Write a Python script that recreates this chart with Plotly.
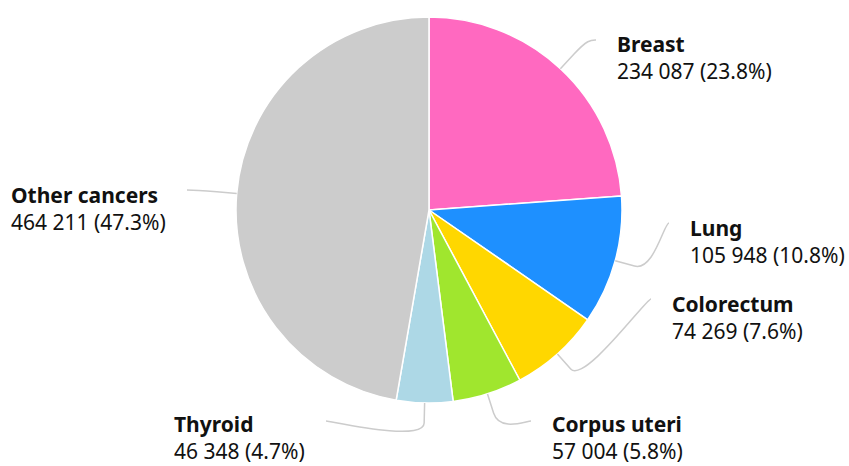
import math
import plotly.graph_objects as go

# ---- data ----
labels = ["Breast", "Lung", "Colorectum", "Corpus uteri", "Thyroid", "Other cancers"]
values = [234087, 105948, 74269, 57004, 46348, 464211]
percent_text = ["23.8%", "10.8%", "7.6%", "5.8%", "4.7%", "47.3%"]
colors = ["#FF69C0", "#1E90FF", "#FFD700", "#A0E62E", "#ADD8E6", "#CCCCCC"]

# ---- layout constants (pixels) ----
W, H = 849, 466
CX, CY, R = 429, 210, 193
BREAK_OFFSET = 20
# end point of each connector next to its label (px)
label_ends = [(596, 40), (669, 223), (651, 299), (531, 421), (326, 421), (187, 190)]
label_side = ["right", "right", "right", "right", "left", "left"]
text_dy = [18, 18, 18, 16, 16, 18]
FONT = "Noto Sans, Open Sans, sans-serif"
FSIZE = 21


def px(x):
    return x / W


def py(y):
    return 1 - y / H


def fmt(v):
    return f"{v:,}".replace(",", " ")


fig = go.Figure()
fig.add_trace(go.Pie(
    labels=labels,
    values=values,
    sort=False,
    direction="clockwise",
    rotation=0,
    marker=dict(colors=colors, line=dict(color="white", width=1.5)),
    textinfo="none",
    hoverinfo="label+value+percent",
    showlegend=False,
    domain=dict(x=[px(CX - R), px(CX + R)], y=[py(CY + R), py(CY - R)]),
))

total = sum(values)
cum = 0
shapes = []
annotations = []
for i, v in enumerate(values):
    mid = (cum + v / 2) / total * 2 * math.pi
    cum += v
    dx, dy = math.sin(mid), -math.cos(mid)
    tx, ty = CX + R * dx, CY + R * dy
    bx, by = CX + (R + BREAK_OFFSET) * dx, CY + (R + BREAK_OFFSET) * dy
    lx, ly = label_ends[i]
    c1x = lx + (-5 if label_side[i] == "right" else 5)
    c2x, c2y = 2 * bx - tx, 2 * by - ty
    path = (f"M {px(lx)},{py(ly)} C {px(c1x)},{py(ly)} {px(c2x)},{py(c2y)} "
            f"{px(bx)},{py(by)} L {px(tx)},{py(ty)}")
    shapes.append(dict(type="path", path=path, xref="paper", yref="paper",
                       line=dict(color="#CCCCCC", width=1.5)))
    text = f"<b>{labels[i]}</b><br>{fmt(v)} ({percent_text[i]})"
    if label_side[i] == "right":
        ax, xanchor = lx + 20, "left"
    else:
        ax, xanchor = lx - 20, "right"
    annotations.append(dict(
        x=px(ax), y=py(ly + text_dy[i]), xref="paper", yref="paper",
        text=text, showarrow=False, xanchor=xanchor, yanchor="middle",
        align="left", borderpad=0,
        font=dict(family=FONT, size=FSIZE, color="#111111"),
    ))

fig.update_layout(
    width=W, height=H,
    margin=dict(l=0, r=0, t=0, b=0),
    paper_bgcolor="white", plot_bgcolor="white",
    shapes=shapes, annotations=annotations,
)
fig.write_html(
    "out.html",
    config={"displayModeBar": False},
    post_script="document.body.style.margin='0';document.body.style.overflow='hidden';",
)
